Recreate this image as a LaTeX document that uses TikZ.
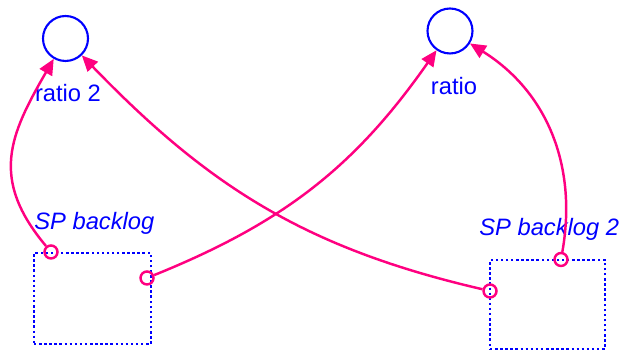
\documentclass[tikz,border=0pt]{standalone}
\usepackage{fontspec}
\setmainfont{Liberation Sans}
\usepackage{xcolor}
\usepackage{tikz}
\usetikzlibrary{arrows.meta,positioning}

\definecolor{auxblue}{RGB}{0,0,255}
\definecolor{linkpink}{RGB}{255,0,128}

\begin{document}
\begin{tikzpicture}[
  x=0.02cm, y=0.02cm,
  aux/.style={draw=auxblue, circle, line width=1.2pt, minimum size=0.9cm, inner sep=0pt},
  stock/.style={draw=auxblue, rectangle, line width=1.5pt, dash pattern=on 1.4pt off 1.5pt, inner sep=0pt},
  lbl/.style={text=auxblue, font=\fontsize{13.5}{16}\selectfont, inner sep=0pt},
  tail/.style={draw=linkpink, circle, line width=1.4pt, minimum size=0.26cm, inner sep=0pt},
  link/.style={draw=linkpink, line width=1.4pt, -{Triangle[length=9pt,width=8pt]}}
]
\useasboundingbox (0,0) rectangle (619,350);
% auxiliaries
\node[aux] (ratio2) at (65.5,311.5) {};
\node[aux] (ratio) at (450,319) {};
\node[lbl] (ratio2lbl) at (68,257) {ratio 2};
\node[lbl] (ratiolbl) at (454,264) {ratio};
% stocks
\node[stock, minimum width=2.34cm, minimum height=1.82cm] (backlog) at (92.5,51.5) {};
\node[stock, minimum width=2.3cm, minimum height=1.78cm] (backlog2) at (547.5,45.5) {};
\node[lbl, font=\fontsize{13.5}{16}\selectfont\itshape, anchor=west] (backloglbl) at (34,127) {SP backlog};
\node[lbl, font=\fontsize{13.5}{16}\selectfont\itshape, anchor=west] (backlog2lbl) at (479,121) {SP backlog 2};
% link tails
\node[tail] (t1) at (51,98) {};
\node[tail] (t2) at (147,72) {};
\node[tail] (t3) at (490,59) {};
\node[tail] (t4) at (561,90.5) {};
% links
\draw[link] (t1) to[out=130, in=240, looseness=1.2] (ratio2);
\draw[link] (t2) to[out=22, in=235] (ratio);
\draw[link] (t3) to[out=167, in=-46] (ratio2);
\draw[link] (t4) to[out=80, in=-32] (ratio);
\end{tikzpicture}
\end{document}
